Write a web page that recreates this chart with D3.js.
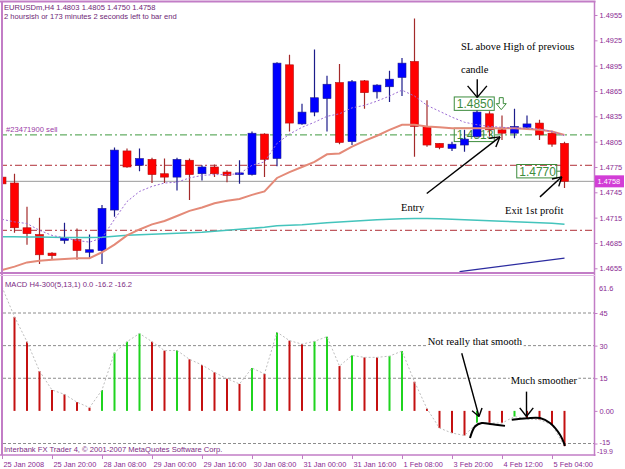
<!DOCTYPE html>
<html><head><meta charset="utf-8">
<script src="https://cdn.jsdelivr.net/npm/d3@7/dist/d3.min.js"></script>
<style>body{margin:0;background:#fff} svg{display:block}</style>
</head><body>
<svg id="c" width="625" height="469"></svg>
<script>
// ---------- DATA ----------
const tickIdx = [0,4,8,12,16,20,24,28,32,36,40,44];
const tickLabels = ["25 Jan 2008","25 Jan 20:00","28 Jan 08:00","29 Jan 00:00","29 Jan 16:00","30 Jan 08:00","31 Jan 00:00","31 Jan 16:00","1 Feb 08:00","3 Feb 20:00","4 Feb 12:00","5 Feb 04:00"];
const open  = [1.4763,1.4756,1.4703,1.4695,1.4673,1.4688,1.4689,1.4674,1.4676,1.4724,
               1.4794,1.4777,1.4784,1.4767,1.4763,1.4783,1.4767,1.4775,1.4769,1.4766,
               1.4766,1.4814,1.4785,1.4896,1.4826,1.4840,1.4856,1.4875,1.4805,1.4877,
               1.4864,1.4870,1.4881,1.4900,1.4823,1.4803,1.4797,1.4801,1.4811,1.4838,
               1.4819,1.4815,1.4822,1.4827,1.4815,1.4803];
const high  = [1.4764,1.4767,1.4728,1.4715,1.4674,1.4709,1.4702,1.4695,1.4730,1.4798,
               1.4797,1.4797,1.4786,1.4785,1.4786,1.4785,1.4777,1.4778,1.4771,1.4783,
               1.4817,1.4815,1.4899,1.4908,1.4850,1.4914,1.4883,1.4897,1.4878,1.4878,
               1.4873,1.4889,1.4904,1.4951,1.4854,1.4803,1.4805,1.4819,1.4842,1.4841,
               1.4836,1.4844,1.4836,1.4831,1.4818,1.4805];
const low   = [1.4748,1.4697,1.4683,1.4660,1.4665,1.4684,1.4665,1.4666,1.4660,1.4716,
               1.4774,1.4770,1.4756,1.4756,1.4747,1.4736,1.4759,1.4763,1.4757,1.4755,
               1.4765,1.4763,1.4776,1.4817,1.4825,1.4835,1.4817,1.4802,1.4801,1.4844,
               1.4856,1.4852,1.4859,1.4787,1.4799,1.4796,1.4794,1.4793,1.4810,1.4811,
               1.4807,1.4809,1.4819,1.4807,1.4799,1.4750];
const close = [1.4755,1.4703,1.4696,1.4671,1.4670,1.4691,1.4676,1.4677,1.4726,1.4795,
               1.4775,1.4785,1.4766,1.4763,1.4784,1.4766,1.4775,1.4767,1.4765,1.4768,
               1.4815,1.4784,1.4898,1.4827,1.4840,1.4857,1.4873,1.4804,1.4876,1.4863,
               1.4872,1.4879,1.4898,1.4823,1.4801,1.4798,1.4802,1.4808,1.4840,1.4819,
               1.4815,1.4823,1.4826,1.4813,1.4802,1.4758];
const maSalmon = [1.4653,1.4657,1.4662,1.4664,1.4665,1.4666,1.4667,1.4667,1.4674,1.4683,
                  1.4694,1.4701,1.4707,1.4711,1.4717,1.4723,1.4727,1.4732,1.4735,1.4737,
                  1.4742,1.4746,1.4762,1.4769,1.4775,1.4781,1.4790,1.4791,1.4799,1.4806,
                  1.4812,1.4819,1.4825,1.4825,1.4823,1.4822,1.4821,1.4821,1.4821,1.4821,
                  1.4821,1.4821,1.4820,1.4819,1.4817,1.4813];
const maDotted = [1.4713,1.4710,1.4708,1.4700,1.4694,1.4691,1.4688,1.4686,1.4691,1.4713,
                  1.4734,1.4746,1.4752,1.4756,1.4757,1.4762,1.4765,1.4766,1.4766,1.4767,
                  1.4777,1.4781,1.4803,1.4814,1.4822,1.4828,1.4835,1.4838,1.4845,1.4848,
                  1.4853,1.4859,1.4866,1.4859,1.4848,1.4841,1.4834,1.4828,1.4825,1.4823,
                  1.4822,1.4821,1.4821,1.4820,1.4817,1.4812];
const maCyan = [1.46924,1.46924,1.46921,1.46920,1.46918,1.46915,1.46914,1.46914,1.46918,1.46930,
                1.46941,1.46947,1.46953,1.46959,1.46965,1.46971,1.46977,1.46989,1.47000,1.47012,
                1.47024,1.47036,1.47054,1.47060,1.47066,1.47078,1.47090,1.47099,1.47107,1.47116,
                1.47125,1.47131,1.47137,1.47139,1.47139,1.47137,1.47131,1.47125,1.47119,1.47113,
                1.47107,1.47102,1.47096,1.47090,1.47084,1.47072];
const macd = [57,43.2,31.8,18.3,9.6,7.6,4.0,1.5,9.6,26.8,
              31.8,35.6,31.8,27.7,27.8,23.7,21.1,17.7,14.8,12.4,
              19.7,17.0,36.2,32.3,30.7,32.0,34.1,20.6,25.5,24.6,
              24.6,25.2,27.5,13.4,1.0,-7.9,-10.2,-11.3,-5.5,-5.6,
              -5.6,-2.6,-3.7,-4.1,-6.4,-16.2];
const priceTicks = [1.4955,1.4925,1.4895,1.4865,1.4835,1.4805,1.4775,1.4745,1.4715,1.4685,1.4655];
const macdTicks = [45,30,15,0,-15];
const macdLevels = [45,30,15,-15];
const macdMax = 61.6, macdMin = -19.9;
const sellPrice = 1.4813;
const redLevels = [1.4777, 1.4700];
const bidPrice = 1.4758;
const trendLine = [[36.6,1.4651],[45,1.4667]];
const priceBoxes = [{i:36.18,p:1.4850,t:"1.4850"},{i:36.18,p:1.4813,t:"1.4813"},{i:41.18,p:1.4770,t:"1.4770"}];
const mainNotes = [{t:"SL above High of previous",i:36.72,p:1.4913},{t:"candle",i:36.72,p:1.4886},
                   {t:"Entry",i:31.92,p:1.4723},{t:"Exit 1st profit",i:40.24,p:1.4719}];
const mainArrows = [{a:[38.02,1.48788],b:[38.02,1.48574],len:15,ang:40},
                    {a:[33.98,1.47436],b:[39.84,1.48107],len:11,ang:30},
                    {a:[43.04,1.47396],b:[44.78,1.47633],len:10,ang:30}];
const macdNotes = [{t:"Not really that smooth",i:34.06,v:30.5},{t:"Much smoother",i:40.7,v:12.2}];
const macdArrows = [{a:[36.78,26.5],b:[38.16,-2.6],len:9,ang:35},{a:[41.96,8.85],b:[41.96,-2.6],len:11,ang:38}];
const macdCurves = [[[37.44,-12.5],[37.84,-7.2],[38.38,-5.6],[39.04,-6.0],[40.24,-6.9]],
                    [[40.78,-4.1],[42.0,-3.4],[43.04,-3.3],[43.84,-5.6],[44.64,-11.0],[45.04,-16.1]]];

// ---------- SCALES ----------
const svg = d3.select("#c");
const F = "#c27dc6", T = "#8a2a92";
const x = d3.scaleLinear().domain([0,45]).range([2,564.5]);
const y = d3.scaleLinear().domain([1.4655,1.4955]).range([268.3,15]);
const yM = d3.scaleLinear().domain([-15,45]).range([443.5,313]);
const idx = d3.range(open.length);

svg.append("rect").attr("width",625).attr("height",469).attr("fill","#fff");
const defs = svg.append("defs");
defs.append("clipPath").attr("id","cm").append("rect").attr("x",2.5).attr("y",2.5).attr("width",591.5).attr("height",269.5);
defs.append("clipPath").attr("id","cd").append("rect").attr("x",2.5).attr("y",276).attr("width",591.5).attr("height",178.5);

// ---------- MAIN PANEL ----------
const gm = svg.append("g").attr("clip-path","url(#cm)");
gm.append("line").attr("x1",0).attr("x2",595).attr("y1",y(sellPrice)).attr("y2",y(sellPrice))
  .attr("stroke","#3f9a3f").attr("stroke-dasharray","7,3,2,3");
gm.selectAll(".rl").data(redLevels).join("line").attr("x1",0).attr("x2",595)
  .attr("y1",d=>y(d)).attr("y2",d=>y(d)).attr("stroke","#b03038").attr("stroke-dasharray","7,3,2,3");
gm.append("line").attr("x1",0).attr("x2",595).attr("y1",y(bidPrice)).attr("y2",y(bidPrice)).attr("stroke","#9a9a9a");
gm.append("line").attr("x1",x(trendLine[0][0])).attr("y1",y(trendLine[0][1]))
  .attr("x2",x(trendLine[1][0])).attr("y2",y(trendLine[1][1])).attr("stroke","#2c2ca0").attr("stroke-width",1.2);

// price boxes
const bx = gm.selectAll(".bx").data(priceBoxes).join("g");
bx.append("rect").attr("x",d=>x(d.i)).attr("y",d=>y(d.p)-6.7).attr("width",40).attr("height",13.4)
  .attr("fill","none").attr("stroke","#3d8c3d");
bx.append("text").attr("x",d=>x(d.i)+2.5).attr("y",d=>y(d.p)+4.5).text(d=>d.t)
  .attr("font-family","Liberation Sans, Arial").attr("font-size",12).attr("fill","#3d8c3d");
{
  const b0 = priceBoxes[0], bx0 = x(b0.i)+43, by0 = y(b0.p)-6;
  gm.append("path").attr("d",`M${bx0+2},${by0} h4 v6 h3 l-5,6 l-5,-6 h3 z`).attr("fill","none").attr("stroke","#3d8c3d");
  const b2 = priceBoxes[2];
  gm.append("line").attr("x1",x(b2.i)+40).attr("x2",x(b2.i)+47).attr("y1",y(b2.p)).attr("y2",y(b2.p)).attr("stroke","#3d8c3d");
}

// candles
const cg = gm.selectAll(".cd").data(idx).join("g");
cg.append("line").attr("x1",i=>x(i)).attr("x2",i=>x(i)).attr("y1",i=>y(high[i])).attr("y2",i=>y(low[i]))
  .attr("stroke",i=>close[i]>=open[i]?"#1c1c8a":"#a32a2a").attr("stroke-width",1.2);
cg.append("rect").attr("x",i=>x(i)-4).attr("width",8)
  .attr("y",i=>y(Math.max(open[i],close[i])))
  .attr("height",i=>Math.max(1.5,Math.abs(y(open[i])-y(close[i]))))
  .attr("fill",i=>close[i]>=open[i]?"#0000ff":"#ff0000")
  .attr("stroke",i=>close[i]>=open[i]?"#1c1c8a":"#b01010").attr("stroke-width",0.6);

// moving averages
const lineI = arr => d3.line().x((d,i)=>x(i)).y(d=>y(d))(arr);
gm.append("path").attr("d",lineI(maCyan)).attr("fill","none").attr("stroke","#44c4bc").attr("stroke-width",1.6);
gm.append("path").attr("d",lineI(maSalmon)).attr("fill","none").attr("stroke","#e48a78").attr("stroke-width",2);
gm.append("path").attr("d",lineI(maDotted)).attr("fill","none").attr("stroke","#9b6bd3").attr("stroke-width",1).attr("stroke-dasharray","2,2");

// ---------- MACD PANEL ----------
const gd = svg.append("g").attr("clip-path","url(#cd)");
gd.selectAll(".lv").data(macdLevels).join("line").attr("x1",3).attr("x2",594)
  .attr("y1",d=>yM(d)).attr("y2",d=>yM(d)).attr("stroke","#8c8c8c").attr("stroke-dasharray","3,2");
gd.selectAll(".mb").data(idx).join("rect")
  .attr("x",i=>x(i)-1).attr("width",2)
  .attr("y",i=>Math.min(yM(0),yM(macd[i]))).attr("height",i=>Math.abs(yM(macd[i])-yM(0)))
  .attr("fill",i=>(i>0 && macd[i]>macd[i-1])?"#1fd41f":"#c41010");
gd.append("path").attr("d",d3.line().x((d,i)=>x(i)).y(d=>yM(d))(macd)).attr("fill","none")
  .attr("stroke","#bdbdbd").attr("stroke-dasharray","2,2");

// ---------- ANNOTATIONS ----------
function arrow(g, sx, sy, ex, ey, len, ang){
  g.append("line").attr("x1",sx).attr("y1",sy).attr("x2",ex).attr("y2",ey).attr("stroke","#000").attr("stroke-width",1.4);
  const th = Math.atan2(ey-sy, ex-sx), a = ang*Math.PI/180;
  [th+Math.PI-a, th+Math.PI+a].forEach(t=>{
    g.append("line").attr("x1",ex).attr("y1",ey).attr("x2",ex+len*Math.cos(t)).attr("y2",ey+len*Math.sin(t))
      .attr("stroke","#000").attr("stroke-width",1.4);
  });
}
const ga = svg.append("g");
mainArrows.forEach(d=>arrow(ga, x(d.a[0]), y(d.a[1]), x(d.b[0]), y(d.b[1]), d.len, d.ang));
ga.selectAll(".mn").data(mainNotes).join("text").attr("x",d=>x(d.i)).attr("y",d=>y(d.p)).text(d=>d.t)
  .attr("font-family","Liberation Serif, Times New Roman").attr("font-size",10.5).attr("fill","#000");

const gn = svg.append("g");
macdNotes.forEach(d=>{
  const t = gn.append("text").attr("x",x(d.i)).attr("y",yM(d.v)).text(d.t)
    .attr("font-family","Liberation Serif, Times New Roman").attr("font-size",10.5).attr("fill","#000");
  const bb = t.node().getBBox();
  gn.insert("rect","text").attr("x",bb.x-1).attr("y",bb.y).attr("width",bb.width+2).attr("height",bb.height).attr("fill","#fff");
});
macdArrows.forEach(d=>arrow(gn, x(d.a[0]), yM(d.a[1]), x(d.b[0]), yM(d.b[1]), d.len, d.ang));
macdCurves.forEach(c=>{
  gn.append("path").attr("d",d3.line().x(d=>x(d[0])).y(d=>yM(d[1])).curve(d3.curveCatmullRom)(c))
    .attr("fill","none").attr("stroke","#000").attr("stroke-width",2);
});

// ---------- FRAME ----------
const fr = svg.append("g").attr("stroke",F).attr("fill","none");
fr.append("line").attr("x1",0).attr("x2",595.5).attr("y1",1.5).attr("y2",1.5).attr("stroke-width",2);
fr.append("line").attr("x1",2).attr("x2",2).attr("y1",1).attr("y2",455).attr("stroke-width",2);
fr.append("line").attr("x1",594.5).attr("x2",594.5).attr("y1",1).attr("y2",456).attr("stroke-width",1.5);
fr.append("line").attr("x1",0).attr("x2",595).attr("y1",273).attr("y2",273).attr("stroke-width",2);
fr.append("line").attr("x1",0).attr("x2",595).attr("y1",275.5).attr("y2",275.5).attr("stroke-width",1).attr("stroke","#e2b8e4");
fr.append("line").attr("x1",0).attr("x2",595.5).attr("y1",455).attr("y2",455).attr("stroke-width",1.5);

// ---------- AXES ----------
const FONT = "Liberation Sans, Arial";
function styleAxis(g){
  g.select(".domain").remove();
  g.selectAll("line").attr("stroke",F);
  g.selectAll("text").attr("fill",T).attr("font-family",FONT).attr("font-size",7.4);
}
svg.append("g").attr("transform","translate(594.5,0)")
  .call(d3.axisRight(y).tickValues(priceTicks).tickSize(3).tickPadding(2).tickFormat(d3.format(".4f"))).call(styleAxis);
const ma = svg.append("g").attr("transform","translate(594.5,0)")
  .call(d3.axisRight(yM).tickValues(macdTicks).tickSize(3).tickPadding(2).tickFormat(d=>d===0?"0.00":d)).call(styleAxis);
ma.selectAll("text").filter(d=>d===-15).attr("dy","0.1em");
svg.append("text").attr("x",599).attr("y",yM(macdMax)+14).text(macdMax.toFixed(1)).attr("fill",T).attr("font-family",FONT).attr("font-size",7.4);
svg.append("text").attr("x",597).attr("y",yM(macdMin)-0.5).text(macdMin.toFixed(1)).attr("fill",T).attr("font-family",FONT).attr("font-size",7);
const xa = svg.append("g").attr("transform","translate(0,455)")
  .call(d3.axisBottom(x).tickValues(tickIdx).tickSize(4).tickFormat((d,k)=>tickLabels[k])).call(styleAxis);
xa.selectAll("text").attr("text-anchor","start").attr("x",1).attr("y",6.5);

// current price label
svg.append("rect").attr("x",595).attr("y",y(bidPrice)-6).attr("width",29).attr("height",12).attr("fill","#d23ed6");
svg.append("text").attr("x",597.5).attr("y",y(bidPrice)+3).text(bidPrice.toFixed(4)).attr("fill","#fff").attr("font-family",FONT).attr("font-size",7.4);

// ---------- TEXTS ----------
const tx = (s,xx,yy,c)=>svg.append("text").attr("x",xx).attr("y",yy).text(s).attr("fill",c||T).attr("font-family",FONT).attr("font-size",7.6);
tx(`EURUSDm,H4  ${open[45].toFixed(4)} ${high[45].toFixed(4)} ${low[45].toFixed(4)} ${close[45].toFixed(4)}`,4,10,"#6e1f76");
tx("2 hoursish or 173 minutes 2 seconds left to bar end",4,19,"#6e1f76");
tx("#23471900 sell",6,y(sellPrice)-2.5,"#9a3aa6");
tx(`MACD H4-300(5,13,1) 0.0 ${macd[45].toFixed(1)} ${macd[45].toFixed(1)}`,5,286.5,"#7a2a82");
tx("Interbank FX Trader 4, © 2001-2007 MetaQuotes Software Corp.",4,452,"#7a2a82");
</script>
</body></html>
